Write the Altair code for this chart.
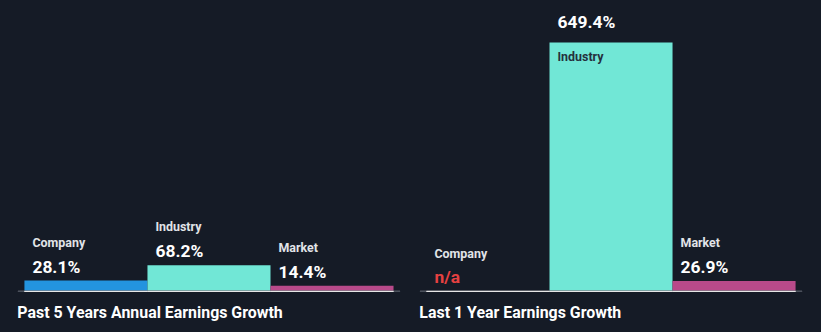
import altair as alt
import pandas as pd

categories = ["Company", "Industry", "Market"]
past5_values = [28.1, 68.2, 14.4]
last1_values = [None, 649.4, 26.9]
panel_titles = ["Past 5 Years Annual Earnings Growth", "Last 1 Year Earnings Growth"]
bar_colors = ["#2394df", "#71e7d6", "#b84a8a"]

BG = "#151b26"
FONT = "Roboto"
W = 384
H = 292
PAD_OUT = 0.053
BAND = W / (len(categories) + 2 * PAD_OUT)
TX = -BAND / 2 + 8
YMAX = 758


def make_df(values):
    rows = []
    for c, v in zip(categories, values):
        rows.append({
            "cat": c,
            "plot": 0.0 if v is None else float(v),
            "zero": 0.0,
            "label": "n/a" if v is None else f"{v:.1f}%",
            "missing": v is None,
            "inside": bool(v is not None and v > 400),
        })
    return pd.DataFrame(rows)


def panel(values, title):
    df = make_df(values)
    df_out = df[~df["inside"]]
    df_in = df[df["inside"]]
    df_ok = df_out[~df_out["missing"]]
    df_na = df_out[df_out["missing"]]

    xb = alt.X("cat:N", sort=categories, axis=None,
               scale=alt.Scale(domain=categories, paddingInner=0, paddingOuter=PAD_OUT))
    yq = alt.Y("plot:Q", axis=None, scale=alt.Scale(domain=[0, YMAX]))

    bars = alt.Chart(df).mark_bar().encode(
        x=xb, y=yq,
        color=alt.Color("cat:N", scale=alt.Scale(domain=categories, range=bar_colors), legend=None),
    )
    axis_line = alt.Chart(df).mark_rule(color="#4b515c", strokeWidth=1.2).encode(
        y=alt.Y("zero:Q", axis=None, scale=alt.Scale(domain=[0, YMAX]))
    )
    base_lines = alt.Chart(df).mark_bar(stroke="#e8e8e8", strokeWidth=1, fillOpacity=0).encode(
        x=xb,
        y=alt.Y("zero:Q", axis=None, scale=alt.Scale(domain=[0, YMAX])),
        y2=alt.Y2("zero:Q"),
    )
    layers = [bars, axis_line, base_lines]

    def txt(d, dy, size, color, field):
        return alt.Chart(d).mark_text(
            align="left", baseline="middle", dx=TX, dy=dy, font=FONT,
            fontSize=size, fontWeight="bold", color=color).encode(
            x=xb, y=yq, text=alt.Text(field + ":N"))

    if len(df_out):
        layers.append(txt(df_out, -38, 12.5, "#e1e4e8", "cat"))
    if len(df_ok):
        layers.append(txt(df_ok, -13, 17.5, "#ffffff", "label"))
    if len(df_na):
        layers.append(txt(df_na, -13, 17.5, "#e64141", "label"))
    if len(df_in):
        layers.append(txt(df_in, 15, 12.5, "#25303d", "cat"))
        layers.append(txt(df_in, -20, 17.5, "#ffffff", "label"))

    return alt.layer(*layers).properties(
        width=W, height=H,
        title=alt.TitleParams(title, orient="bottom", anchor="start", font=FONT, fontSize=16,
                              fontWeight="bold", color="#ffffff", offset=13),
    )


chart = alt.hconcat(panel(past5_values, panel_titles[0]), panel(last1_values, panel_titles[1]),
                    spacing=18).properties(
    background=BG,
    padding={"left": 17, "top": 0, "right": 18, "bottom": 10},
).configure_view(strokeWidth=0)

chart.save("out.html", embed_options={"renderer": "svg", "actions": False})
